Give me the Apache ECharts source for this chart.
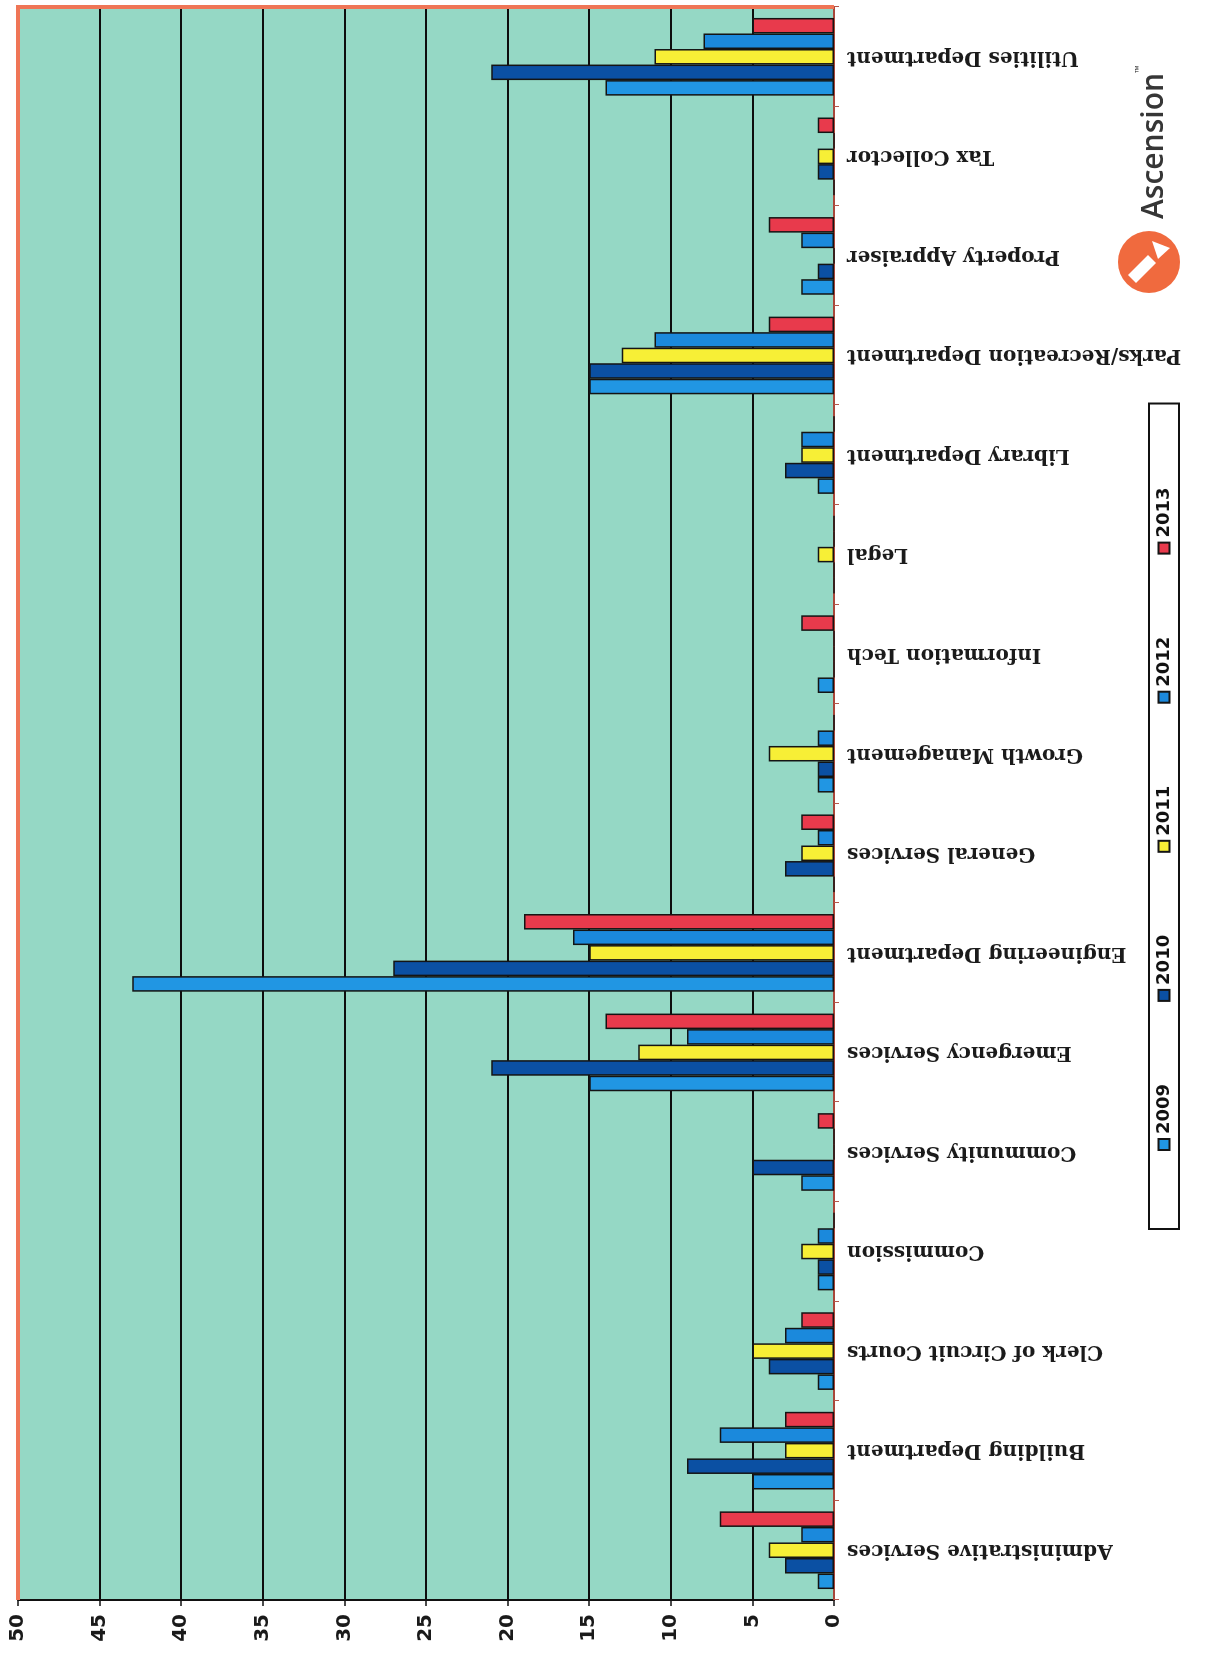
<!DOCTYPE html>
<html>
<head>
<meta charset="utf-8">
<title>Department counts 2009–2013</title>
<script src="https://cdn.jsdelivr.net/npm/echarts@6/dist/echarts.min.js"></script>
<style>
  html, body { margin: 0; padding: 0; background: #ffffff; overflow: hidden; }
  body { width: 1217px; height: 1658px; position: relative; }
  /* The column chart is laid out landscape and turned a quarter turn counter-clockwise onto the portrait page. */
  #chart {
    position: absolute; left: 0; top: 0;
    width: 1658px; height: 1217px;
    transform-origin: 0 0;
    transform: translateY(1658px) rotate(-90deg);
  }
</style>
</head>
<body>
<div id="chart"></div>
<script>
// Departments along the category axis
const categories = [
  'Administrative Services', 'Building Department', 'Clerk of Circuit Courts', 'Commission',
  'Community Services', 'Emergency Services', 'Engineering Department', 'General Services',
  'Growth Management', 'Information Tech', 'Legal', 'Library Department',
  'Parks/Recreation Department', 'Property Appraiser', 'Tax Collector', 'Utilities Department'
];

const years = ['2009', '2010', '2011', '2012', '2013'];

// One value per department, per year
const values2009 = [1, 5, 1, 1, 2, 15, 43, 0, 1, 1, 0, 1, 15, 2, 0, 14];
const values2010 = [3, 9, 4, 1, 5, 21, 27, 3, 1, 0, 0, 3, 15, 1, 1, 21];
const values2011 = [4, 3, 5, 2, 0, 12, 15, 2, 4, 0, 1, 2, 13, 0, 1, 11];
const values2012 = [2, 7, 3, 1, 0, 9, 16, 1, 1, 0, 0, 2, 11, 2, 0, 8];
const values2013 = [7, 3, 2, 0, 1, 14, 19, 2, 0, 2, 0, 0, 4, 4, 1, 5];

const seriesValues = [values2009, values2010, values2011, values2012, values2013];
const seriesColors = ['#2196e3', '#0b50a3', '#f7ef36', '#1b89dc', '#e83a4c'];

// Plot area inside the 1658 x 1217 landscape canvas
const W = 1658, H = 1217;
const plot = { left: 58, right: 7, top: 18, bottom: 383 };
const plotRight = W - plot.right, plotBottom = H - plot.bottom;

const chart = echarts.init(document.getElementById('chart'), null, { width: W, height: H, renderer: 'canvas' });

const option = {
  backgroundColor: '#ffffff',
  animation: false,
  grid: {
    left: plot.left, right: plot.right, top: plot.top, bottom: plot.bottom,
    show: true,
    backgroundColor: '#95d8c5',
    borderWidth: 0
  },
  legend: {
    data: years,
    orient: 'horizontal',
    left: 429,
    top: 1149,
    icon: 'rect',
    itemWidth: 11,
    itemHeight: 11,
    itemGap: 82,
    padding: [6, 84, 6, 78],
    borderColor: '#111111',
    borderWidth: 2,
    backgroundColor: '#ffffff',
    textStyle: { fontFamily: 'DejaVu Sans', fontWeight: 'bold', fontSize: 18, color: '#111111' }
  },
  xAxis: {
    type: 'category',
    data: categories,
    boundaryGap: true,
    axisLine: { show: true, lineStyle: { color: '#a8473a', width: 2 } },
    axisTick: { show: true, length: 5, lineStyle: { color: '#b5564a', width: 1 } },
    axisLabel: {
      interval: 0,
      rotate: 90,
      margin: 13,
      fontFamily: 'DejaVu Serif',
      fontWeight: 'bold',
      fontSize: 20,
      color: '#1b1b1b'
    },
    splitLine: { show: false }
  },
  yAxis: {
    type: 'value',
    min: 0,
    max: 50,
    interval: 5,
    axisLine: { show: true, lineStyle: { color: '#111111', width: 2 } },
    axisTick: { show: true, length: 6, lineStyle: { color: '#111111', width: 1.5 } },
    axisLabel: {
      margin: 14,
      fontFamily: 'DejaVu Sans',
      fontWeight: 'bold',
      fontSize: 20,
      color: '#1a1a1a'
    },
    splitLine: { show: true, lineStyle: { color: '#0d0d0d', width: 2 } }
  },
  series: years.map((y, i) => ({
    name: y,
    type: 'bar',
    data: seriesValues[i],
    barGap: '0%',
    barCategoryGap: '22%',
    itemStyle: { color: seriesColors[i], borderColor: '#141414', borderWidth: 1.5 },
    emphasis: { disabled: true }
  })),
  graphic: [
    // red frame along the top and far side of the plot
    {
      type: 'polyline',
      z: 50,
      silent: true,
      shape: { points: [[plot.left, plot.top], [plotRight, plot.top], [plotRight, plotBottom]] },
      style: { stroke: '#ef7556', lineWidth: 4, fill: null }
    },
    // Ascension logo mark
    {
      type: 'group',
      x: 1396,
      y: 1149,
      silent: true,
      children: [
        { type: 'circle', shape: { cx: 0, cy: 0, r: 31 }, style: { fill: '#f06a3e' } },
        { type: 'polygon', shape: { points: [[-21, -13], [-13, -21], [7, -1], [-1, 7]] }, style: { fill: '#ffffff' } },
        { type: 'polygon', shape: { points: [[3, 9], [21, 3], [14, 21]] }, style: { fill: '#ffffff' } }
      ]
    },
    {
      type: 'text',
      x: 1439,
      y: 1154,
      silent: true,
      style: {
        text: 'Ascension',
        font: '600 30px "Open Sans"',
        fill: '#363636',
        textVerticalAlign: 'middle'
      }
    },
    {
      type: 'text',
      x: 1585,
      y: 1134,
      silent: true,
      style: { text: '™', font: '10px "Open Sans"', fill: '#363636' }
    }
  ]
};

chart.setOption(option);
</script>
</body>
</html>
